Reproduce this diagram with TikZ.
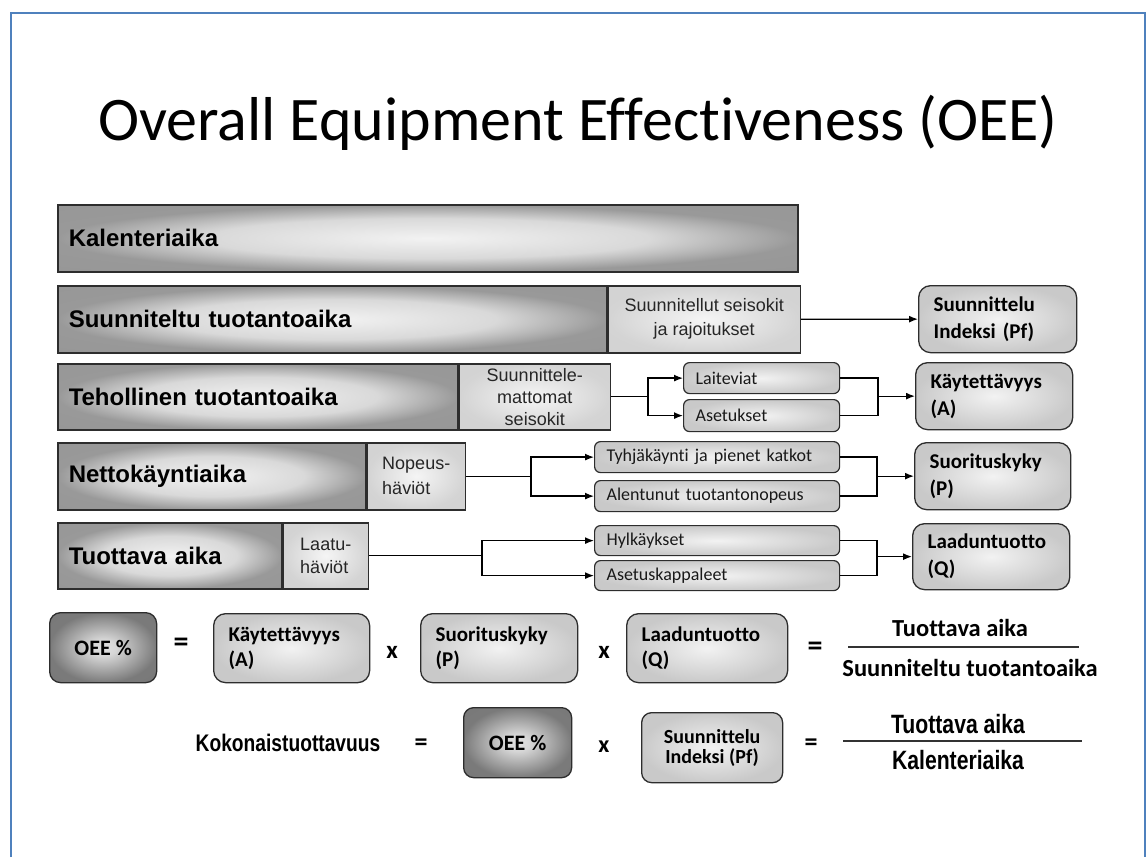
\documentclass[tikz,border=0pt]{standalone}
\usepackage{fontspec}
\setmainfont{Carlito}[RawFeature={-liga;-clig;-calt;-dlig}]
\newfontfamily\arialfont{Liberation Sans}
\newfontfamily\narrowfont{Liberation Sans}[FakeStretch=0.8]
\usetikzlibrary{arrows.meta,calc}

\definecolor{frameblue}{RGB}{79,129,189}
\definecolor{edgegray}{RGB}{45,45,45}

% soft glows used for the bars and boxes
\pgfdeclareradialshading{darkglow}{\pgfpoint{0bp}{0bp}}{%
  color(0bp)=(black!5); color(15bp)=(black!15); color(25bp)=(black!40); color(50bp)=(black!42)}
\pgfdeclareradialshading{oeeglow}{\pgfpoint{0bp}{0bp}}{%
  color(0bp)=(black!12); color(6bp)=(black!16); color(25bp)=(black!52); color(50bp)=(black!54)}
\pgfdeclareradialshading{lightglow}{\pgfpoint{0bp}{0bp}}{%
  color(0bp)=(black!4); color(25bp)=(black!17); color(50bp)=(black!18)}
\pgfdeclareradialshading{boxglow}{\pgfpoint{0bp}{0bp}}{%
  color(0bp)=(black!5); color(25bp)=(black!21); color(50bp)=(black!22)}

\begin{document}
\begin{tikzpicture}[x=1pt,y=-1pt,
  frame/.style={draw=frameblue, line width=2pt},
  bar/.style={draw=edgegray, line width=1.5pt, inner sep=0pt, anchor=north west},
  darkbar/.style={bar, shading=darkglow, inner xsep=11pt, align=left,
    font=\arialfont\bfseries\fontsize{24}{28}\selectfont},
  lightbar/.style={bar, shading=lightglow, align=center, text=black!85,
    font=\arialfont\fontsize{18}{24}\selectfont},
  sbox/.style={draw=edgegray, line width=1.2pt, rounded corners=6pt, shading=boxglow,
    anchor=north west, inner xsep=12pt, inner ysep=0pt, align=left, text=black!90,
    font=\fontsize{18}{22}\selectfont},
  rbox/.style={draw=edgegray, line width=1.3pt, rounded corners=12pt, shading=boxglow,
    anchor=north west, inner xsep=15pt, inner ysep=0pt, align=left,
    font=\bfseries\fontsize{21}{27}\selectfont},
  oeebox/.style={draw=edgegray, line width=1.3pt, rounded corners=11pt, shading=oeeglow,
    anchor=north west, inner sep=0pt, font=\bfseries\fontsize{22}{26}\selectfont},
  eqsign/.style={inner sep=0pt, font=\bfseries\fontsize{30}{30}\selectfont},
  timessign/.style={inner sep=0pt, font=\bfseries\fontsize{25}{25}\selectfont},
  fractext/.style={inner sep=0pt, font=\bfseries\fontsize{24.5}{28}\selectfont},
  narrowtext/.style={inner sep=0pt, font=\narrowfont\bfseries\fontsize{26.5}{30}\selectfont},
  fracline/.style={line width=1.4pt, draw=black!80},
  conn/.style={line width=1.3pt, draw=black},
  arr/.style={conn, -{Latex[length=9pt,width=7pt]}}
]
\useasboundingbox (0,0) rectangle (1148,857);
\fill[white] (0,0) rectangle (1148,857);
\draw[frame] (11,857) -- (11,12.5) -- (1145,12.5) -- (1145,857);

% heading
\node[anchor=base, inner sep=0pt, font=\fontsize{62}{70}\selectfont] (title) at (578,140)
  {Overall Equipment Effectiveness (OEE)};

% time bars
\node[darkbar, minimum width=740pt, minimum height=67pt, text width=718pt] (kal) at (57,204) {Kalenteriaika};

\node[darkbar, minimum width=549pt, minimum height=67pt, text width=527pt] (stt) at (57,285) {Suunniteltu tuotantoaika};
\node[lightbar, minimum width=192pt, minimum height=67pt] (sst) at (stt.north east) {Suunnitellut seisokit\\ja rajoitukset};

\node[darkbar, minimum width=400pt, minimum height=66pt, text width=378pt] (tta) at (57,363) {Tehollinen tuotantoaika};
\node[lightbar, minimum width=151pt, minimum height=66pt, font=\arialfont\fontsize{18}{22}\selectfont] (sms) at (tta.north east) {Suunnittele-\\mattomat\\seisokit};

\node[darkbar, minimum width=308pt, minimum height=67pt, text width=286pt] (nka) at (57,442) {Nettokäyntiaika};
\node[lightbar, minimum width=98pt, minimum height=67pt, align=left, font=\arialfont\fontsize{18}{25}\selectfont] (nph) at (nka.north east) {Nopeus-\\häviöt};

\node[darkbar, minimum width=224pt, minimum height=66pt, text width=202pt] (tva) at (57,522) {Tuottava aika};
\node[lightbar, minimum width=85pt, minimum height=66pt, align=left, font=\arialfont\fontsize{18}{23}\selectfont] (lah) at (tva.north east) {Laatu-\\häviöt};

% loss categories
\node[sbox, minimum width=156pt, minimum height=31pt, text width=132pt] (lv) at (683,362) {Laiteviat};
\node[sbox, minimum width=156pt, minimum height=32pt, text width=132pt] (as) at (683,399) {Asetukset};
\node[sbox, minimum width=245pt, minimum height=31pt, text width=221pt] (ty) at (594,441) {Tyhjäkäynti ja pienet katkot};
\node[sbox, minimum width=245pt, minimum height=31pt, text width=221pt] (al) at (594,480) {Alentunut tuotantonopeus};
\node[sbox, minimum width=245pt, minimum height=30pt, text width=221pt] (hy) at (594,525) {Hylkäykset};
\node[sbox, minimum width=245pt, minimum height=30pt, text width=221pt] (ak) at (594,560) {Asetuskappaleet};

% resulting factors
\node[rbox, minimum width=158pt, minimum height=67pt, text width=128pt] (pf) at (918,285) {Suunnittelu\\Indeksi (Pf)};
\node[rbox, minimum width=157pt, minimum height=67pt, text width=127pt] (fa) at (915,362) {Käytettävyys\\(A)};
\node[rbox, minimum width=156pt, minimum height=67pt, text width=126pt] (fp) at (914,442) {Suorituskyky\\(P)};
\node[rbox, minimum width=157pt, minimum height=66pt, text width=127pt] (fq) at (912,523) {Laaduntuotto\\(Q)};

% connectors
\draw[arr] (sst.east) -- (pf.west);

\coordinate (sA) at ($(sms.east)+(37,0)$);
\coordinate (mA) at ($(fa.west)+(-37,0)$);
\draw[conn] (sms.east) -- (sA);
\draw[arr] (sA) |- (lv.west);
\draw[arr] (sA) |- (as.west);
\draw[conn] (lv.east) -| (mA);
\draw[conn] (as.east) -| (mA);
\draw[arr] (mA) -- (fa.west);

\coordinate (sP) at ($(nph.east)+(65,0)$);
\coordinate (mP) at ($(fp.west)+(-37,0)$);
\draw[conn] (nph.east) -- (sP);
\draw[arr] (sP) |- (ty.west);
\draw[arr] (sP) |- (al.west);
\draw[conn] (ty.east) -| (mP);
\draw[conn] (al.east) -| (mP);
\draw[arr] (mP) -- (fp.west);

\coordinate (sQ) at ($(lah.east)+(113,0)$);
\coordinate (mQ) at ($(fq.west)+(-35,0)$);
\draw[conn] (lah.east) -- (sQ);
\draw[arr] (sQ) |- (hy.west);
\draw[arr] (sQ) |- (ak.west);
\draw[conn] (hy.east) -| (mQ);
\draw[conn] (ak.east) -| (mQ);
\draw[arr] (mQ) -- (fq.west);

% OEE formula
\node[oeebox, minimum width=107pt, minimum height=70pt] (oee1) at (49,612) {OEE \%};
\node[eqsign] (eq1) at (181,645) {=};
\node[rbox, minimum width=156pt, minimum height=69pt, text width=126pt, font=\bfseries\fontsize{21}{25}\selectfont] (ka) at (213,613) {Käytettävyys\\(A)};
\node[timessign] (x1) at (392,652) {x};
\node[rbox, minimum width=157pt, minimum height=69pt, text width=127pt, font=\bfseries\fontsize{21}{25}\selectfont] (kp) at (420,613) {Suorituskyky\\(P)};
\node[timessign] (x2) at (604,652) {x};
\node[rbox, minimum width=161pt, minimum height=69pt, text width=131pt, font=\bfseries\fontsize{21}{25}\selectfont] (kq) at (626,613) {Laaduntuotto\\(Q)};
\node[eqsign] (eq2) at (815,649) {=};
\node[fractext] (num1) at (960,628) {Tuottava aika};
\draw[fracline] (848,647) -- (1079,647);
\node[fractext] (den1) at (970,668) {Suunniteltu tuotantoaika};

% total productivity formula
\node[inner sep=0pt, font=\narrowfont\bfseries\fontsize{24}{28}\selectfont] (kok) at (288,743) {Kokonaistuottavuus};
\node[eqsign, font=\bfseries\fontsize{26}{26}\selectfont] (eq3) at (421,745) {=};
\node[oeebox, minimum width=108pt, minimum height=70pt, rounded corners=10pt] (oee2) at (463,707) {OEE \%};
\node[timessign, font=\bfseries\fontsize{24}{24}\selectfont] (x3) at (604,747) {x};
\node[rbox, minimum width=141pt, minimum height=70pt, inner xsep=0pt, align=center, rounded corners=10pt,
  font=\bfseries\fontsize{20}{20}\selectfont] (pf2) at (641,712) {Suunnittelu\\Indeksi (Pf)};
\node[eqsign, font=\bfseries\fontsize{26}{26}\selectfont] (eq4) at (811,745) {=};
\node[narrowtext] (num2) at (958,724) {Tuottava aika};
\draw[fracline] (843,741) -- (1082,741);
\node[narrowtext] (den2) at (958,760) {Kalenteriaika};
\end{tikzpicture}
\end{document}
